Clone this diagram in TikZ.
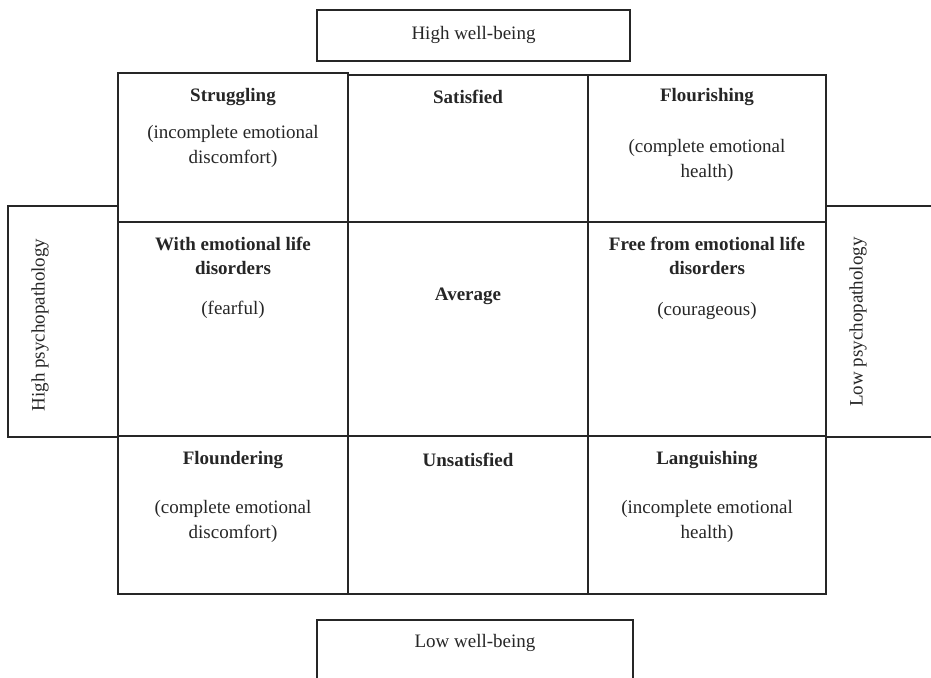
\documentclass[tikz,border=0pt]{standalone}
\usepackage{fontspec}
\setmainfont{Liberation Serif}

\tikzset{
  frame/.style={line width=1.4pt, draw=black!85},
  head/.style={font=\fontsize{19}{24}\selectfont\bfseries, align=center, inner sep=0pt, text=black!85},
  note/.style={font=\fontsize{19}{25}\selectfont, align=center, inner sep=0pt, text=black!85},
}

\begin{document}
\begin{tikzpicture}[x=1pt,y=-1pt]
	\useasboundingbox (0,0) rectangle (931,677);
	\clip (0,0) rectangle (931,677);  % side boxes run off the page

	% Well-being boxes
	\draw[frame] (317,10) rectangle (630,61);
	\node[note] (highwb) at (473.5,35) {High well-being};
	\draw[frame] (317,680) -- (317,620) -- (633,620) -- (633,680);
	\node[note] (lowwb) at (475,643) {Low well-being};

	% Psychopathology boxes
	\draw[frame] (118,206) -- (8,206) -- (8,437) -- (118,437);
	\node[note, rotate=90] (highpsy) at (40,325) {High psychopathology};
	\draw[frame] (935,206) -- (826,206);
	\draw[frame] (826,437) -- (935,437);
	\node[note, rotate=90] (lowpsy) at (858,322) {Low psychopathology};

	% Grid
	\draw[frame] (118,222) -- (118,73) -- (348,73) -- (348,222);  % Struggling cell
	\draw[frame] (348,75) -- (826,75) -- (826,594) -- (118,594) -- (118,222);
	\draw[frame] (348,75) -- (348,594);
	\draw[frame] (588,75) -- (588,594);
	\draw[frame] (118,222) -- (826,222);
	\draw[frame] (118,436) -- (826,436);

	% Top row
	\node[head] (struggling) at (233,97) {Struggling};
	\node[note] (strugglingsub) at (233,146) {(incomplete emotional\\discomfort)};
	\node[head] (satisfied) at (468,97) {Satisfied};
	\node[head] (flourishing) at (707,97) {Flourishing};
	\node[note] (flourishingsub) at (707,160) {(complete emotional\\health)};

	% Middle row
	\node[head] (disorders) at (233,256) {With emotional life\\disorders};
	\node[note] (fearful) at (233,310) {(fearful)};
	\node[head] (average) at (468,296) {Average};
	\node[head] (free) at (707,256) {Free from emotional life\\disorders};
	\node[note] (courageous) at (707,311) {(courageous)};

	% Bottom row
	\node[head] (floundering) at (233,460) {Floundering};
	\node[note] (flounderingsub) at (233,521) {(complete emotional\\discomfort)};
	\node[head] (unsatisfied) at (468,460) {Unsatisfied};
	\node[head] (languishing) at (707,460) {Languishing};
	\node[note] (languishingsub) at (707,521) {(incomplete emotional\\health)};
\end{tikzpicture}
\end{document}
